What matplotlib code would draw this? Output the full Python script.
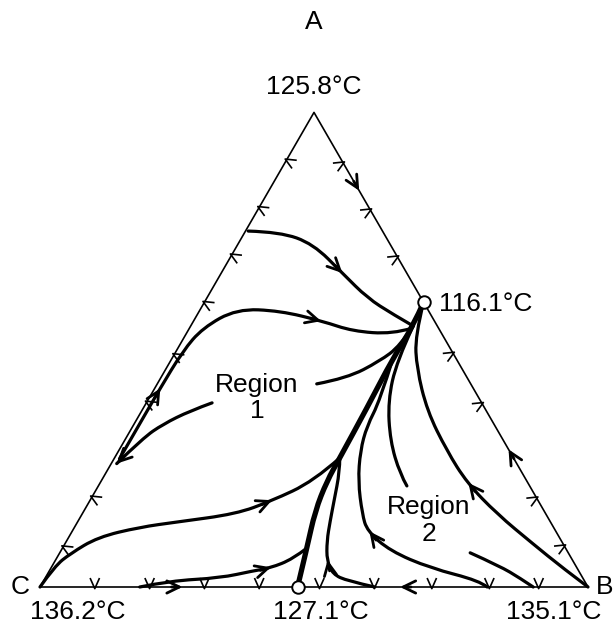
import numpy as np
import matplotlib.pyplot as plt
from matplotlib.path import Path
from matplotlib.patches import PathPatch

plt.rcParams['font.family'] = ['Liberation Sans', 'DejaVu Sans']

# compositions are (x_A, x_B); x_C = 1 - x_A - x_B
temp_A, temp_B, temp_C = '125.8°C', '135.1°C', '136.2°C'
azeo_AB = (0.60, 0.40)
azeo_BC = (0.0, 0.47)
temp_azeo_AB, temp_azeo_BC = '116.1°C', '127.1°C'

# residue curves, region 1
curve_top = [(0.75, 0.005), (0.748, 0.064), (0.723, 0.137), (0.660, 0.223),
             (0.609, 0.293), (0.575, 0.356), (0.55, 0.406)]
curve_second = [(0.27, 0.010), (0.35, 0.010), (0.417, 0.010), (0.497, 0.012),
                (0.546, 0.024), (0.586, 0.066), (0.582, 0.147), (0.560, 0.236),
                (0.539, 0.301), (0.533, 0.377), (0.545, 0.405)]
curve_region1 = [(0.428, 0.291), (0.440, 0.340), (0.476, 0.382), (0.508, 0.403),
                 (0.55, 0.406)]
curve_left = [(0.388, 0.120), (0.371, 0.088), (0.343, 0.053), (0.314, 0.031),
              (0.26, 0.010)]
curve_from_C = [(0.0, 0.0), (0.044, 0.005), (0.070, 0.020), (0.105, 0.053),
                (0.126, 0.119), (0.137, 0.182), (0.154, 0.281), (0.181, 0.331),
                (0.223, 0.388), (0.272, 0.411)]
curve_bottom = [(0.0, 0.182), (0.013, 0.231), (0.019, 0.319), (0.034, 0.372),
                (0.040, 0.400), (0.059, 0.432), (0.082, 0.446)]

# separatrix between the two regions
separatrix = [(0.0, 0.47), (0.082, 0.446), (0.160, 0.422), (0.223, 0.412),
              (0.272, 0.411), (0.377, 0.408), (0.483, 0.403), (0.55, 0.406),
              (0.60, 0.40)]

# residue curves, region 2
curve_from_B = [(0.0, 1.0), (0.040, 0.934), (0.091, 0.854), (0.154, 0.757),
                (0.219, 0.670), (0.287, 0.599), (0.371, 0.521), (0.461, 0.457),
                (0.529, 0.420), (0.60, 0.40)]
curve_region2 = [(0.213, 0.563), (0.238, 0.538), (0.308, 0.485), (0.392, 0.439),
                 (0.476, 0.413), (0.55, 0.406)]
curve_mid = [(0.0, 0.816), (0.013, 0.796), (0.040, 0.692), (0.076, 0.601),
             (0.118, 0.538), (0.154, 0.511), (0.223, 0.469), (0.287, 0.441),
             (0.339, 0.427), (0.392, 0.424), (0.483, 0.403)]
curve_low = [(0.0, 0.611), (0.013, 0.554), (0.027, 0.521), (0.055, 0.496),
             (0.097, 0.475), (0.139, 0.460), (0.181, 0.446), (0.244, 0.425),
             (0.272, 0.411)]
curve_short = [(0.072, 0.749), (0.044, 0.817), (0.019, 0.866), (0.0, 0.900)]

# tick marks along the edges
marks_AC = [0.90, 0.80, 0.70, 0.60, 0.49, 0.39, 0.19, 0.085]   # x_A
marks_AB = [0.894, 0.795, 0.696, 0.493, 0.387, 0.188, 0.087]  # x_A
marks_CB = [0.10, 0.20, 0.30, 0.40, 0.51, 0.61, 0.715, 0.82, 0.91]  # x_B


def to_xy(pts):
    a = np.asarray(pts, float).reshape(-1, 2)
    return np.column_stack([a[:, 1] + a[:, 0] / 2, a[:, 0] * np.sqrt(3) / 2])


def smooth_path(xy):
    verts, codes = [xy[0]], [Path.MOVETO]
    n = len(xy)
    if n == 2:
        return Path([xy[0], xy[1]], [Path.MOVETO, Path.LINETO])
    for i in range(1, n - 1):
        end = (xy[i] + xy[i + 1]) / 2 if i < n - 2 else xy[-1]
        verts += [xy[i], end]
        codes += [Path.CURVE3, Path.CURVE3]
    return Path(verts, codes)


def arrow_head(ax, tip, d, lw=2.0):
    d = d / np.hypot(*d)
    ax.annotate('', xy=tip, xytext=tip - 0.02 * d,
                arrowprops=dict(arrowstyle='->, head_length=0.45, head_width=0.22',
                                lw=lw, color='k', shrinkA=0, shrinkB=0,
                                mutation_scale=20), zorder=4)


def curve(ax, pts, lw=2.3, arrows=()):
    xy = to_xy(pts)
    ax.add_patch(PathPatch(smooth_path(xy), fill=False, lw=lw, ec='k',
                           capstyle='round', joinstyle='round', zorder=3))
    n = len(xy)
    for i in arrows:
        if i == n - 1:
            arrow_head(ax, xy[-1], xy[-1] - xy[-2])
        else:
            tip = 0.125 * xy[i - 1] + 0.75 * xy[i] + 0.125 * xy[i + 1]
            arrow_head(ax, tip, xy[i + 1] - xy[i - 1])


fig = plt.figure(figsize=(6.16, 6.26), dpi=100)
ax = fig.add_axes([0, 0, 1, 1])
ax.set_xlim(-40 / 548, 576 / 548)
ax.set_ylim((587 - 626) / 548, 587 / 548)
ax.axis('off')

A, B, C = to_xy([(1, 0), (0, 1), (0, 0)])
tri = np.array([C, B, A, C])
ax.plot(tri[:, 0], tri[:, 1], color='k', lw=1.2, zorder=2)
centroid = (A + B + C) / 3


def edge_mark(p, p1, p2):
    t = (p2 - p1) / np.hypot(*(p2 - p1))
    nrm = np.array([-t[1], t[0]])
    if np.dot(centroid - p, nrm) < 0:
        nrm = -nrm
    pts = np.array([p + 0.015 * nrm - 0.008 * t, p - 0.003 * nrm,
                    p + 0.015 * nrm + 0.008 * t])
    ax.plot(pts[:, 0], pts[:, 1], color='k', lw=1.2, zorder=2)


for xa in marks_AC:
    edge_mark(to_xy([(xa, 0)])[0], C, A)
for xa in marks_AB:
    edge_mark(to_xy([(xa, 1 - xa)])[0], A, B)
for xb in marks_CB:
    edge_mark(to_xy([(0, xb)])[0], C, B)

# arrows lying on the edges
for comp, d in [((0.835, 0.165), B - A), ((0.29, 0.71), A - B),
                ((0.0, 0.657), C - B), ((0.0, 0.26), B - C)]:
    arrow_head(ax, to_xy([comp])[0], d)

curve(ax, curve_top, arrows=[3])
curve(ax, curve_second, arrows=[2, 7])
curve(ax, curve_region1)
curve(ax, curve_left, arrows=[4])
curve(ax, curve_from_C, arrows=[7])
curve(ax, curve_bottom, arrows=[4])
curve(ax, separatrix, lw=3.8)
curve(ax, curve_from_B, arrows=[4])
curve(ax, curve_region2)
curve(ax, curve_mid, arrows=[4])
curve(ax, curve_low, arrows=[3])
curve(ax, curve_short)

az = to_xy([azeo_AB, azeo_BC])
ax.plot(az[:, 0], az[:, 1], 'o', ms=9, mfc='white', mec='k', mew=1.4, zorder=6)

fs = 19
kw = dict(textcoords='offset points', fontsize=fs, va='center', ha='center')
ax.annotate('A', A, xytext=(0, 65), **kw)
ax.annotate(temp_A, A, xytext=(0, 18), **kw)
ax.annotate('C', C, xytext=(-14.5, 0), **kw)
ax.annotate(temp_C, C, xytext=(27, -18), **kw)
ax.annotate('B', B, xytext=(12, 0), **kw)
ax.annotate(temp_B, B, xytext=(-25, -18), **kw)
ax.annotate(temp_azeo_BC, az[1], xytext=(16.5, -18), **kw)
ax.annotate(temp_azeo_AB, az[0], xytext=(11, -1.5), textcoords='offset points',
            fontsize=fs, va='center', ha='left')

ax.text(0.396, 0.345, 'Region\n1', fontsize=fs, ha='center', va='center',
        linespacing=1.15)
ax.text(0.710, 0.122, 'Region\n2', fontsize=fs, ha='center', va='center',
        linespacing=1.15)

fig.savefig('out.png', dpi=100)
